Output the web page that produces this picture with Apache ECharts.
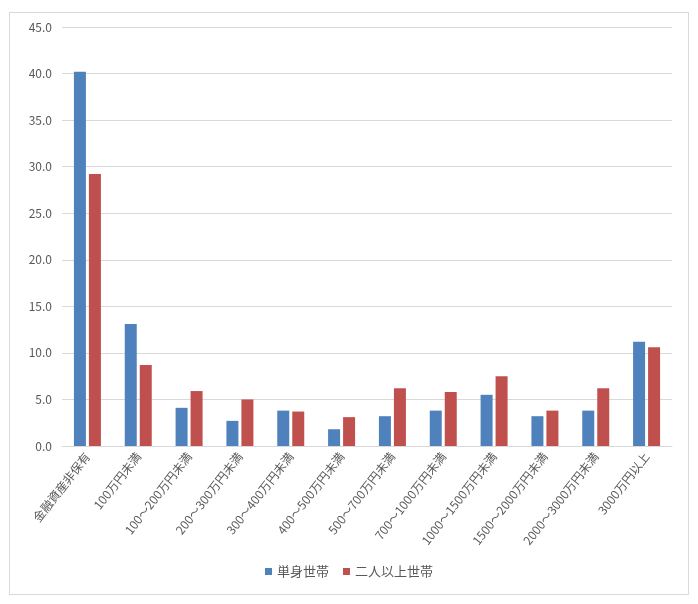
<!DOCTYPE html>
<html>
<head>
<meta charset="utf-8">
<script src="https://cdn.jsdelivr.net/npm/echarts@6/dist/echarts.min.js"></script>
<style>
    body { margin: 0; background: #fff; }
    #frame { position: absolute; left: 9px; top: 12px; width: 678px; height: 581px; border: 1px solid #d9d9d9; }
    #chart { position: absolute; left: 0; top: 0; width: 698px; height: 604px; }
</style>
</head>
<body>
<div id="frame"></div>
<div id="chart"></div>
<script>
    var categories = ['金融資産非保有', '100万円未満', '100～200万円未満', '200～300万円未満', '300～400万円未満',
        '400～500万円未満', '500～700万円未満', '700～1000万円未満', '1000～1500万円未満',
        '1500～2000万円未満', '2000～3000万円未満', '3000万円以上'];
    var single = [40.2, 13.1, 4.1, 2.7, 3.8, 1.8, 3.2, 3.8, 5.5, 3.2, 3.8, 11.2];
    var multi = [29.2, 8.7, 5.9, 5.0, 3.7, 3.1, 6.2, 5.8, 7.5, 3.8, 6.2, 10.6];
    var seriesNames = ['単身世帯', '二人以上世帯'];

    var font = '"Noto Sans CJK JP", sans-serif';
    var myChart = echarts.init(document.getElementById('chart'));
    var option = {
        animation: false,
        textStyle: { fontFamily: font },
        grid: { left: 62, right: 26, top: 27, bottom: 158 },
        legend: {
            bottom: 21,
            left: 'center',
            itemWidth: 7,
            itemHeight: 7,
            itemGap: 14,
            icon: 'rect',
            textStyle: { color: '#595959', fontSize: 13, fontFamily: font },
            data: seriesNames
        },
        xAxis: {
            type: 'category',
            data: categories,
            axisLine: { lineStyle: { color: '#d9d9d9' } },
            axisTick: { show: false },
            axisLabel: { rotate: 52, interval: 0, color: '#595959', fontSize: 12, margin: 8, fontFamily: font }
        },
        yAxis: {
            type: 'value',
            min: 0,
            max: 45,
            interval: 5,
            axisLine: { show: false },
            axisTick: { show: false },
            splitLine: { lineStyle: { color: '#d9d9d9' } },
            axisLabel: {
                color: '#595959', fontSize: 12, margin: 10, fontFamily: font,
                formatter: function (v) { return v.toFixed(1); }
            }
        },
        series: [
            { name: seriesNames[0], type: 'bar', data: single, barWidth: 12, barGap: '25%', itemStyle: { color: '#4f81bd' } },
            { name: seriesNames[1], type: 'bar', data: multi, barWidth: 12, itemStyle: { color: '#c0504d' } }
        ]
    };
    myChart.setOption(option);
</script>
</body>
</html>
